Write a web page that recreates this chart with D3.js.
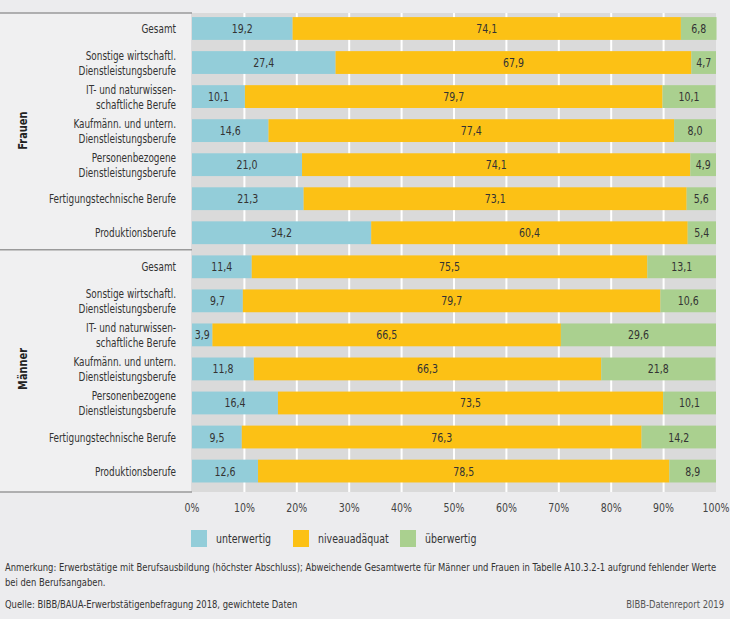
<!DOCTYPE html>
<html>
<head>
<meta charset="utf-8">
<script src="https://cdn.jsdelivr.net/npm/d3@7"></script>
<style>
  body { margin: 0; background: #ececee; }
  svg { display: block; font-family: "DejaVu Sans Condensed", "Liberation Sans Narrow", sans-serif; }
</style>
</head>
<body>
<div id="chart"></div>
<script>
// categories (same order for both groups)
const categories = [
    ["Gesamt"],
    ["Sonstige wirtschaftl.", "Dienstleistungsberufe"],
    ["IT- und naturwissen-", "schaftliche Berufe"],
    ["Kaufmänn. und untern.", "Dienstleistungsberufe"],
    ["Personenbezogene", "Dienstleistungsberufe"],
    ["Fertigungstechnische Berufe"],
    ["Produktionsberufe"]
];
const groups = ["Frauen", "Männer"];
const seriesNames = ["unterwertig", "niveauadäquat", "überwertig"];
const seriesColors = ["#93cdd9", "#fcc115", "#aad08f"];

// values in percent
const frauenUnter = [19.2, 27.4, 10.1, 14.6, 21.0, 21.3, 34.2];
const frauenNiveau = [74.1, 67.9, 79.7, 77.4, 74.1, 73.1, 60.4];
const frauenUeber = [6.8, 4.7, 10.1, 8.0, 4.9, 5.6, 5.4];
const maennerUnter = [11.4, 9.7, 3.9, 11.8, 16.4, 9.5, 12.6];
const maennerNiveau = [75.5, 79.7, 66.5, 66.3, 73.5, 76.3, 78.5];
const maennerUeber = [13.1, 10.6, 29.6, 21.8, 10.1, 14.2, 8.9];

const xTicks = [0, 10, 20, 30, 40, 50, 60, 70, 80, 90, 100];
const noteLines = [
    "Anmerkung: Erwerbstätige mit Berufsausbildung (höchster Abschluss); Abweichende Gesamtwerte für Männer und Frauen in Tabelle A10.3.2-1 aufgrund fehlender Werte",
    "bei den Berufsangaben."
];
const sourceText = "Quelle: BIBB/BAUA-Erwerbstätigenbefragung 2018, gewichtete Daten";
const creditText = "BIBB-Datenreport 2019";

const W = 730, H = 619;
const plotTop = 13, plotBottom = 492, plotLeft = 192, plotRight = 716;
const sx = 0.84; // squeeze text a bit, the original uses a condensed face

// build rows
let rows = [];
const groupVals = [
    [frauenUnter, frauenNiveau, frauenUeber],
    [maennerUnter, maennerNiveau, maennerUeber]
];
groups.forEach((g, gi) => {
    categories.forEach((c, ci) => {
        rows.push({
            id: g + "-" + ci,
            group: g,
            label: c,
            values: groupVals[gi].map(s => s[ci])
        });
    });
});

const svg = d3.select("#chart")
    .append("svg")
    .attr("width", W)
    .attr("height", H);

const x = d3.scaleLinear()
    .domain([0, 100])
    .range([plotLeft, plotRight]);

const y = d3.scaleBand()
    .domain(rows.map(d => d.id))
    .range([plotTop, plotBottom])
    .paddingInner(0.33)
    .paddingOuter(0.2)
    .align(0.3);

let at = (px, py, s) => "translate(" + px + "," + py + ") scale(" + (s || sx) + ",1)";

// left label panel
svg.append("rect")
    .attr("x", 0)
    .attr("y", plotTop)
    .attr("width", plotLeft)
    .attr("height", plotBottom - plotTop)
    .attr("fill", "#f0f0f1");

svg.append("line")
    .attr("x1", plotLeft - 0.5).attr("x2", plotLeft - 0.5)
    .attr("y1", plotTop).attr("y2", plotBottom)
    .attr("stroke", "#dcdcde");

// plot background
svg.append("rect")
    .attr("x", plotLeft)
    .attr("y", plotTop)
    .attr("width", plotRight - plotLeft)
    .attr("height", plotBottom - plotTop)
    .attr("fill", "#dadada");

// vertical grid lines
svg.append("g")
    .selectAll("line")
    .data(xTicks.slice(1, -1))
    .join("line")
    .attr("x1", d => x(d)).attr("x2", d => x(d))
    .attr("y1", plotTop).attr("y2", plotBottom)
    .attr("stroke", "#fff")
    .attr("stroke-width", 2);

// stacked bars
const segs = [];
rows.forEach(r => {
    let acc = 0;
    r.values.forEach((v, i) => {
        segs.push({id: r.id, x0: acc, x1: acc + v, v: v, s: i});
        acc += v;
    });
});

svg.append("g")
    .selectAll("rect")
    .data(segs)
    .join("rect")
    .attr("x", d => x(d.x0))
    .attr("y", d => y(d.id))
    .attr("width", d => x(d.x1) - x(d.x0))
    .attr("height", y.bandwidth())
    .attr("fill", d => seriesColors[d.s]);

svg.append("g")
    .selectAll("text")
    .data(segs)
    .join("text")
    .attr("transform", d => at((x(d.x0) + x(d.x1)) / 2, y(d.id) + y.bandwidth() / 2))
    .attr("dy", "0.36em")
    .attr("text-anchor", "middle")
    .attr("font-size", 12.5)
    .attr("fill", "#333")
    .text(d => d3.format(".1f")(d.v).replace(".", ","));

// category labels
const lab = svg.append("g")
    .selectAll("text")
    .data(rows)
    .join("text")
    .attr("text-anchor", "end")
    .attr("font-size", 12.5)
    .attr("fill", "#333")
    .attr("transform", d => at(176, y(d.id) + y.bandwidth() / 2, 0.79));

lab.selectAll("tspan")
    .data(d => d.label.map((t, i) => ({t: t, i: i, n: d.label.length})))
    .join("tspan")
    .attr("x", 0)
    .attr("dy", d => d.i === 0 ? (0.36 - (d.n - 1) * 0.6) + "em" : "1.2em")
    .text(d => d.t);

// group labels + dividers
groups.forEach((g, gi) => {
    const ids = rows.filter(r => r.group === g).map(r => r.id);
    const y0 = y(ids[0]), y1 = y(ids[ids.length - 1]) + y.bandwidth();
    svg.append("text")
        .attr("transform", "translate(27," + ((y0 + y1) / 2) + ") rotate(-90) scale(" + sx + ",1)")
        .attr("text-anchor", "middle")
        .attr("font-size", 13)
        .attr("font-weight", "bold")
        .attr("fill", "#222")
        .text(g);
});

const midLine = (y(rows[6].id) + y.bandwidth() + y(rows[7].id)) / 2;
[plotTop, midLine, plotBottom].forEach(v => {
    svg.append("line")
        .attr("x1", 0).attr("x2", plotLeft)
        .attr("y1", v).attr("y2", v)
        .attr("stroke", "#9a9a9a")
        .attr("stroke-width", 1.5);
});

// x axis labels
svg.append("g")
    .selectAll("text")
    .data(xTicks)
    .join("text")
    .attr("transform", d => at(x(d), 512))
    .attr("text-anchor", "middle")
    .attr("font-size", 12.5)
    .attr("fill", "#444")
    .text(d => d + "%");

// legend
const legX = [191, 293, 400];
const leg = svg.append("g")
    .selectAll("g")
    .data(seriesNames)
    .join("g")
    .attr("transform", (d, i) => "translate(" + legX[i] + ",530)");
leg.append("rect")
    .attr("width", 16).attr("height", 17)
    .attr("fill", (d, i) => seriesColors[i]);
leg.append("text")
    .attr("transform", at(25, 13))
    .attr("font-size", 12.5)
    .attr("fill", "#333")
    .text(d => d);

// notes
svg.append("g")
    .selectAll("text")
    .data(noteLines)
    .join("text")
    .attr("transform", (d, i) => at(5, 571 + i * 15, 0.89))
    .attr("font-size", 10.5)
    .attr("fill", "#333")
    .text(d => d);

svg.append("text")
    .attr("transform", at(5, 608, 0.89))
    .attr("font-size", 10.5)
    .attr("fill", "#333")
    .text(sourceText);

svg.append("text")
    .attr("transform", at(724, 608, 0.89))
    .attr("text-anchor", "end")
    .attr("font-size", 10.5)
    .attr("fill", "#555")
    .text(creditText);
</script>
</body>
</html>
